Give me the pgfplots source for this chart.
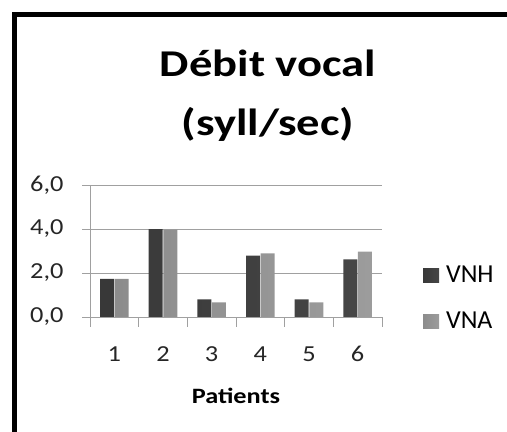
\documentclass[border=0pt]{standalone}
\usepackage{fontspec}
\setmainfont{Carlito}
\usepackage{graphicx}
\usepackage{pgfplots}
\pgfplotsset{compat=1.18}
\definecolor{gridgray}{HTML}{A0A0A0}
\definecolor{nhL}{HTML}{383838}
\definecolor{nhM}{HTML}{5C5C5C}
\definecolor{nhR}{HTML}{464646}
\definecolor{naL}{HTML}{8C8C8C}
\definecolor{naM}{HTML}{B4B4B4}
\definecolor{naR}{HTML}{9C9C9C}
\newcommand{\sx}[1]{\scalebox{1.15}[1]{#1}}
\begin{document}
\begin{tikzpicture}
\useasboundingbox (0,0) rectangle (507bp,432bp);
\draw[line width=5.5bp, black] (14.3bp,-10bp) -- (14.3bp,417.7bp) -- (520bp,417.7bp);
\node[anchor=base, font=\fontsize{38}{44}\selectfont\bfseries] at (268bp,355bp) {\scalebox{1.23}[1]{Débit vocal}};
\node[anchor=base, font=\fontsize{38}{44}\selectfont\bfseries] at (268bp,296bp) {\scalebox{1.23}[1]{(syll/sec)}};
\begin{axis}[
  at={(90bp,115bp)}, anchor=south west,
  scale only axis, width=292bp, height=132bp,
  xmin=0.5, xmax=6.5, ymin=0, ymax=6,
  axis x line*=bottom, axis y line*=left,
  axis line style={gridgray, line width=0.8bp},
  every tick/.style={gridgray, line width=0.8bp},
  tick align=outside,
  xtick={1,2,3,4,5,6},
  xticklabels={\sx{1},\sx{2},\sx{3},\sx{4},\sx{5},\sx{6}},
  major x tick style={draw=none},
  minor xtick={0.5,1.5,2.5,3.5,4.5,5.5,6.5},
  minor tick length=10bp,
  ytick={0,2,4,6},
  yticklabels={\sx{0,0},\sx{2,0},\sx{4,0},\sx{6,0}},
  major tick length=8bp,
  ymajorgrids, grid style={gridgray, line width=0.8bp},
  ticklabel style={font=\fontsize{23}{27}\selectfont, text=black!85},
  xticklabel style={anchor=base, yshift=-36bp},
  yticklabel style={xshift=-15bp},
  xlabel={\scalebox{1.2}[1]{\bfseries Patients}},
  xlabel style={font=\fontsize{22}{26}\selectfont, anchor=base, at={(axis description cs:0.5,-0.659)}},
  ybar=0.6bp, bar width=14bp,
  legend style={draw=none, fill=none, at={(1.14,0.143)}, anchor=west,
    font=\fontsize{26}{30}\selectfont, row sep=24bp, inner sep=0pt},
  legend cell align=left,
  legend image code/.code={\path[#1] (0bp,-7bp) rectangle (16bp,7bp);},
]
\addplot[draw=none, left color=nhL, middle color=nhM, right color=nhR] coordinates {(1,1.73) (2,4.0) (3,0.80) (4,2.79) (5,0.80) (6,2.62)};
\addplot[draw=none, left color=naL, middle color=naM, right color=naR] coordinates {(1,1.73) (2,3.97) (3,0.67) (4,2.89) (5,0.67) (6,2.97)};
\legend{\hspace{5bp}VNH, \hspace{5bp}VNA}
\end{axis}
\end{tikzpicture}
\end{document}
